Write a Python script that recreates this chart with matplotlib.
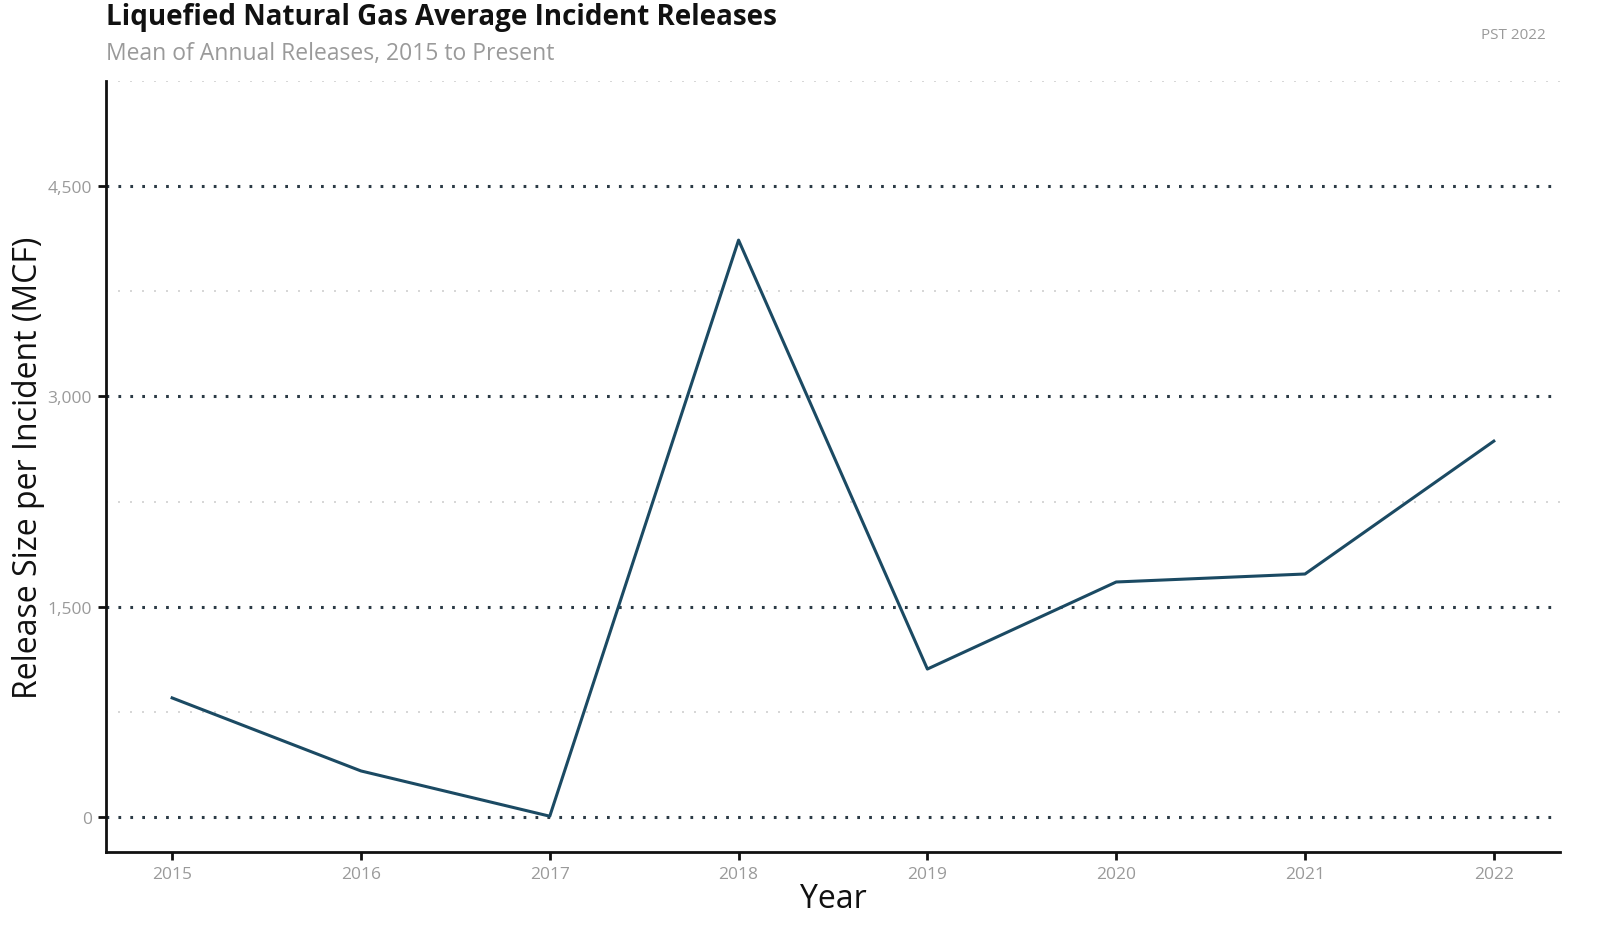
"""LNG average incident releases - line chart."""

import matplotlib
matplotlib.use("Agg")
import matplotlib.pyplot as plt
from matplotlib.ticker import FuncFormatter, MultipleLocator

plt.rcParams["font.family"] = ["Open Sans", "DejaVu Sans"]

# --- data ---
years = [2015, 2016, 2017, 2018, 2019, 2020, 2021, 2022]
mean_release = [849, 328, 5, 4115, 1055, 1676, 1733, 2681]

major_ticks = [0, 1500, 3000, 4500]

LINE_COLOR = "#1b4a63"
GREY = "#9a9a9a"

fig = plt.figure(figsize=(16.19, 9.45), dpi=100)
ax = fig.add_axes([0.0655, 0.0974, 0.898, 0.8158])

ax.plot(years, mean_release, color=LINE_COLOR, linewidth=2.2, zorder=3)

ax.set_xlim(2014.65, 2022.35)
ax.set_ylim(-250, 5250)
ax.set_xticks(years)
ax.set_yticks(major_ticks)
ax.yaxis.set_minor_locator(MultipleLocator(750))
ax.yaxis.set_major_formatter(FuncFormatter(lambda v, p: f"{int(v):,}"))

# 点状网格线（主/次）
ax.grid(which="major", axis="y", color="#2b3a45", linestyle=(0, (0.9, 3.0)),
        linewidth=2.2, zorder=1)
ax.grid(which="minor", axis="y", color="#cfcfcf", linestyle=(0, (1.2, 6.0)),
        linewidth=1.2, zorder=1)
ax.grid(which="major", axis="x", visible=False)

for side in ("top", "right"):
    ax.spines[side].set_visible(False)
for side in ("left", "bottom"):
    ax.spines[side].set_linewidth(2)
    ax.spines[side].set_color("#111111")

ax.tick_params(axis="both", which="major", length=6, width=2, color="#111111",
               labelcolor=GREY, labelsize=12.5, pad=4)
ax.tick_params(axis="y", which="minor", length=0)

ax.set_xlabel("Year", fontsize=23, color="#111111", labelpad=0)
ax.set_ylabel("Release Size per Incident (MCF)", fontsize=23, color="#111111", labelpad=2)

fig.text(0.0655, 0.981, "Liquefied Natural Gas Average Incident Releases",
         fontsize=20, fontweight="bold", color="#111111", va="center", ha="left")
fig.text(0.0655, 0.943, "Mean of Annual Releases, 2015 to Present",
         fontsize=16.5, color=GREY, va="center", ha="left")
fig.text(0.955, 0.962, "PST 2022", fontsize=11, color=GREY, va="center", ha="right")

fig.savefig("out.png", dpi=100)
plt.close(fig)
